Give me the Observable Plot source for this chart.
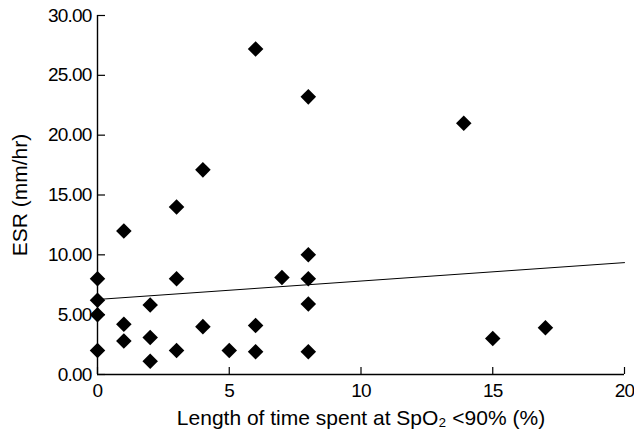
<!DOCTYPE html>
<html><head><meta charset="utf-8">
<script src="https://cdn.jsdelivr.net/npm/d3@7"></script>
<script src="https://cdn.jsdelivr.net/npm/@observablehq/plot@0.6"></script>
<style>
body{margin:0;background:#fff;}
svg{font-family:"Liberation Sans",Arial,sans-serif;}
g[aria-label="y-axis tick label"] text, g[aria-label="x-axis tick label"] text{letter-spacing:-0.8px;}
</style></head><body><div id="chart"></div>
<script>
// Scatter data: length of time at SpO2 <90% (%) vs ESR (mm/hr)
const xValues = [0, 0, 0, 0, 1, 1, 1, 2, 2, 2, 3, 3, 3, 4, 4, 5, 6, 6, 6, 7, 8, 8, 8, 8, 8, 13.9, 15, 17];
const yValues = [8.0, 6.2, 5.0, 2.0, 12.0, 4.2, 2.8, 5.8, 3.1, 1.1, 14.0, 8.0, 2.0, 17.1, 4.0, 2.0, 27.2, 4.1, 1.9, 8.1, 23.2, 10.0, 8.0, 5.9, 1.9, 21.0, 3.0, 3.9];
// Fitted line end points
const fitX = [0, 20];
const fitY = [6.27, 9.35];
const xTicks = [0, 5, 10, 15, 20];
const yTicks = [0, 5, 10, 15, 20, 25, 30];
const xLabel = "Length of time spent at SpO₂ <90% (%)";
const yLabel = "ESR (mm/hr)";

const points = xValues.map((x, i) => ({x, y: yValues[i]}));
const fit = fitX.map((x, i) => ({x, y: fitY[i]}));

const chart = Plot.plot({
  width: 634,
  height: 431,
  marginLeft: 97,
  marginRight: 10,
  marginTop: 15,
  marginBottom: 57,
  style: {fontFamily: "'Liberation Sans', Arial, sans-serif", background: "white", color: "black"},
  x: {domain: [0, 20]},
  y: {domain: [0, 30]},
  marks: [
    Plot.ruleY([0], {stroke: "black", strokeWidth: 1.4}),
    Plot.ruleX([0], {stroke: "black", strokeWidth: 1.4}),
    Plot.axisX(xTicks, {tickSize: -7, tickFormat: () => "", label: null, strokeWidth: 1.2}),
    Plot.axisX(xTicks, {tickSize: 0, tickPadding: 9, fontSize: 19, tickFormat: d3.format("d"), label: null}),
    Plot.axisX([], {tickSize: 0, fontSize: 21, label: xLabel, labelAnchor: "center", labelArrow: "none", labelOffset: 50}),
    Plot.axisY(yTicks, {tickSize: -8, tickFormat: () => "", label: null, strokeWidth: 1.2}),
    Plot.axisY(yTicks, {tickSize: 0, tickPadding: 6, fontSize: 19, tickFormat: d3.format(".2f"), label: null}),
    Plot.axisY([], {tickSize: 0, fontSize: 21, label: yLabel, labelAnchor: "center", labelArrow: "none", labelOffset: 85}),
    Plot.line(fit, {x: "x", y: "y", stroke: "black", strokeWidth: 1}),
    Plot.dot(points, {x: "x", y: "y", symbol: "diamond2", r: 7, fill: "black", stroke: null})
  ]
});
document.getElementById("chart").appendChild(chart);
</script></body></html>
